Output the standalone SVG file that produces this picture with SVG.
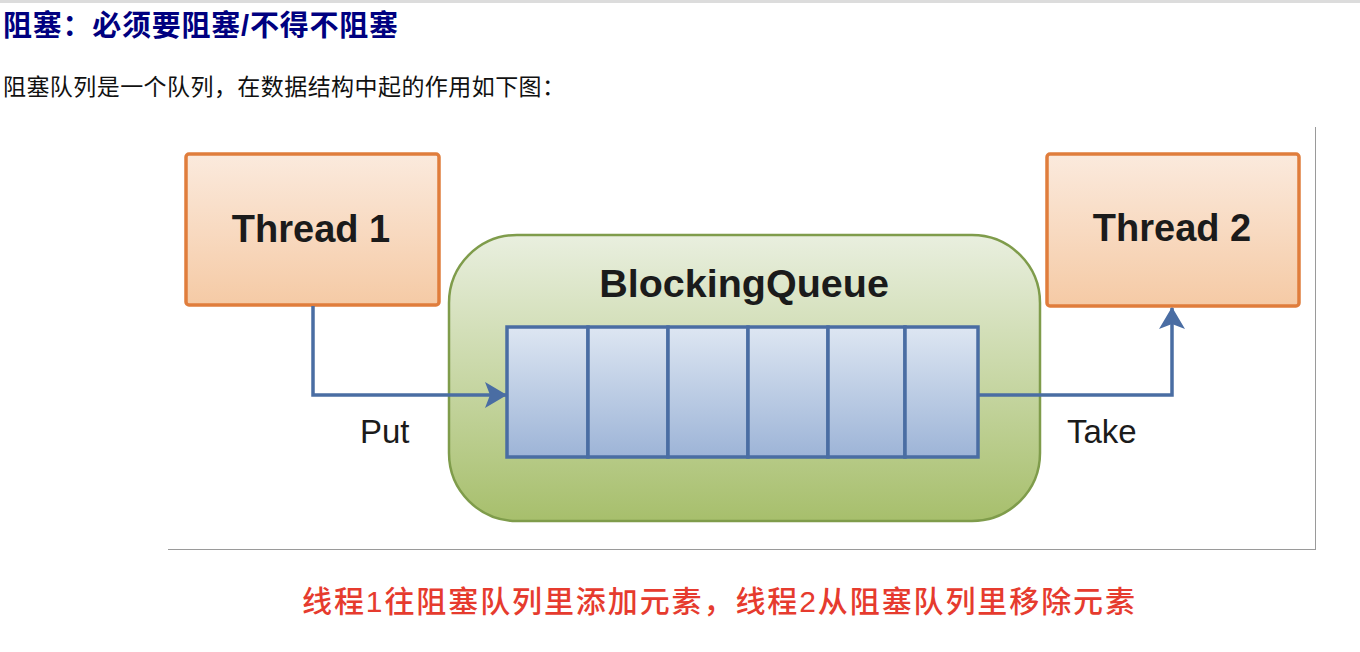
<svg xmlns="http://www.w3.org/2000/svg" width="1360" height="652" viewBox="0 0 1360 652">
  <style>
    .cjk { font-family: "Liberation Sans", "Noto Sans CJK SC", sans-serif; }
    .lbl { font-family: "Liberation Sans", Arial, sans-serif; fill: #1b1b1b; }
    .bold { font-weight: bold; }
    .thread { fill: url(#gOrange); stroke: #e07d3c; stroke-width: 3.5; }
    .cell { fill: url(#gBlue); stroke: #4a6da3; stroke-width: 3.5; }
    .conn { fill: none; stroke: #4a6da3; stroke-width: 3.5; }
    .frame { stroke: #9a9a9a; stroke-width: 1; fill: none; }
  </style>
  <defs>
    <linearGradient id="gOrange" x1="0" y1="0" x2="0" y2="1">
      <stop offset="0" stop-color="#fbeadd"/>
      <stop offset="1" stop-color="#f5caa5"/>
    </linearGradient>
    <linearGradient id="gGreen" x1="0" y1="0" x2="0" y2="1">
      <stop offset="0" stop-color="#e9efdf"/>
      <stop offset="1" stop-color="#a7bf6c"/>
    </linearGradient>
    <linearGradient id="gBlue" x1="0" y1="0" x2="0" y2="1">
      <stop offset="0" stop-color="#dde6f2"/>
      <stop offset="1" stop-color="#9db4d7"/>
    </linearGradient>
    <marker id="arrow" viewBox="0 0 22 26" refX="21" refY="13" markerWidth="22" markerHeight="26" markerUnits="userSpaceOnUse" orient="auto">
      <path d="M0,0 L22,13 L0,26 L5,13 Z" fill="#4a6da3"/>
    </marker>
  </defs>

  <rect x="0" y="0" width="1360" height="3" fill="#dcdcdc"/>

  <text class="cjk bold" x="3" y="36" font-size="29" fill="#000080" textLength="395" lengthAdjust="spacing">阻塞：必须要阻塞/不得不阻塞</text>
  <text class="cjk" x="3" y="95" font-size="23" fill="#111111" textLength="562" lengthAdjust="spacing">阻塞队列是一个队列，在数据结构中起的作用如下图：</text>

  <g id="frame">
    <line class="frame" x1="168" y1="549.5" x2="1316" y2="549.5"/>
    <line class="frame" x1="1315.5" y1="127" x2="1315.5" y2="550"/>
  </g>

  <g id="queue">
    <rect x="449" y="235" width="591" height="286" rx="68" ry="68" fill="url(#gGreen)" stroke="#7f9c4b" stroke-width="2.5"/>
    <text class="lbl bold" x="744" y="297" font-size="39.5" text-anchor="middle">BlockingQueue</text>
    <rect class="cell" x="507" y="327" width="81" height="130"/>
    <rect class="cell" x="588" y="327" width="80" height="130"/>
    <rect class="cell" x="668" y="327" width="80" height="130"/>
    <rect class="cell" x="748" y="327" width="80" height="130"/>
    <rect class="cell" x="828" y="327" width="77" height="130"/>
    <rect class="cell" x="905" y="327" width="73" height="130"/>
  </g>

  <g id="thread1">
    <rect class="thread" x="186" y="154" width="253" height="151" rx="3"/>
    <text class="lbl bold" x="311" y="242" font-size="38" text-anchor="middle">Thread 1</text>
  </g>

  <g id="thread2">
    <rect class="thread" x="1047" y="154" width="252" height="152" rx="3"/>
    <text class="lbl bold" x="1172" y="241" font-size="38" text-anchor="middle">Thread 2</text>
  </g>

  <g id="connectors">
    <path class="conn" d="M313,306 V395 H506" marker-end="url(#arrow)"/>
    <path class="conn" d="M979,395 H1172 V308" marker-end="url(#arrow)"/>
    <text class="lbl" x="360" y="443" font-size="33">Put</text>
    <text class="lbl" x="1067" y="443" font-size="33">Take</text>
  </g>

  <text class="cjk" x="302" y="612" font-size="30" font-weight="500" fill="#e63b2e" textLength="833" lengthAdjust="spacing">线程1往阻塞队列里添加元素，线程2从阻塞队列里移除元素</text>
</svg>
